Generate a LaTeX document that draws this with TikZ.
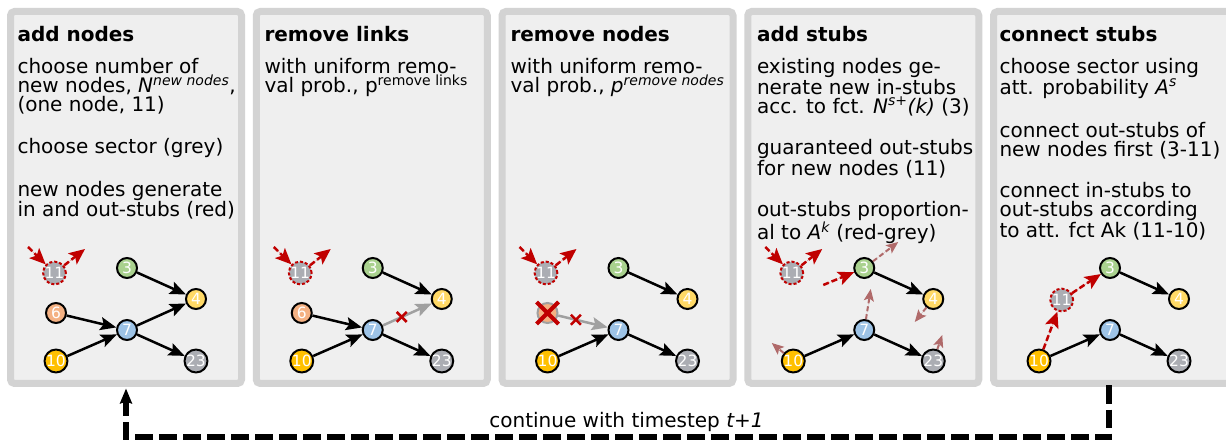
\documentclass[tikz,border=0pt]{standalone}
\usepackage{fontspec}
\setmainfont{DejaVu Sans}
\usetikzlibrary{arrows.meta,calc}
\definecolor{panelborder}{HTML}{D3D3D3}
\definecolor{panelfill}{HTML}{EFEFEF}
\definecolor{stubred}{HTML}{C00000}
\definecolor{mutedred}{HTML}{B06A6A}
\definecolor{edgegrey}{HTML}{A0A0A0}
\definecolor{cgreen}{HTML}{A9D18E}
\definecolor{cyellow}{HTML}{FFD966}
\definecolor{corange}{HTML}{F4B183}
\definecolor{cblue}{HTML}{9DC3E6}
\definecolor{cgold}{HTML}{FFC000}
\definecolor{cgrey}{HTML}{ABADB3}
\newcommand{\bodyfont}{\fontsize{20}{18.8}\selectfont}
\newcommand{\paraskip}{\vskip 22.7pt}
\newcommand{\textblock}[1]{\vtop{\bodyfont\baselineskip=18.8pt #1}}
\tikzset{
  panel/.style={draw=panelborder, fill=panelfill, line width=7pt, rounded corners=4pt,
    minimum width=231pt, minimum height=372pt, inner sep=0pt, outer sep=0pt, anchor=north west},
  titletxt/.style={anchor=base west, inner sep=0pt, outer sep=0pt, font=\bfseries\fontsize{20}{20}\selectfont},
  bodytxt/.style={anchor=base west, inner sep=0pt, outer sep=0pt},
  gn/.style={circle, draw=black, line width=2pt, minimum size=20pt, inner sep=0pt,
    text=white, font=\fontsize{15.5}{15.5}\selectfont},
  newnode/.style={gn, fill=cgrey, draw=stubred, dash pattern=on 3pt off 2pt},
  edge/.style={line width=2.5pt, -{Stealth[length=16pt,width=13pt,inset=3pt]}},
  greyedge/.style={draw=edgegrey, line width=2.5pt, -{Stealth[length=16pt,width=13pt,inset=3pt]}},
  rstub/.style={draw=stubred, fill=stubred, line width=2.5pt, dash pattern=on 6pt off 3pt,
    -{Stealth[length=16pt,width=14pt,inset=3.5pt]}},
  mstub/.style={draw=mutedred, fill=mutedred, line width=2pt, dash pattern=on 5pt off 3pt,
    -{Stealth[length=12pt,width=10pt,inset=2.5pt]}},
  loopline/.style={line width=5.5pt, dash pattern=on 18pt off 6pt,
    -{Stealth[length=15pt,width=12pt,inset=2pt]}},
  labeltxt/.style={anchor=base, inner sep=0pt, font=\fontsize{20}{20}\selectfont},
  xmark/.pic={\draw[stubred, line width=2.5pt] (-5,-5) -- (5,5) (-5,5) -- (5,-5);},
  bigx/.pic={\draw[stubred, line width=4pt] (-11,-11) -- (11,11) (-11,11) -- (11,-11);}
}
\begin{document}
\begin{tikzpicture}[x=1pt,y=-1pt]
\useasboundingbox (0,0) rectangle (1226,443);
% panels
\node[panel] (p1) at (10.5,11.5) {};
\node[panel] (p2) at (256.25,11.5) {};
\node[panel] (p3) at (502,11.5) {};
\node[panel] (p4) at (747.75,11.5) {};
\node[panel, minimum width=250pt] (p5) at (993.5,11.5) {};
\coordinate (loopstart) at ([xshift=-9.5pt]p5.south);
% titles
\node[titletxt] (h1) at (17.5,41.5) {add nodes};
\node[titletxt] (h2) at (264.5,41.5) {remove links};
\node[titletxt] (h3) at (510.5,41.5) {remove nodes};
\node[titletxt] (h4) at (757,41.5) {add stubs};
\node[titletxt] (h5) at (999.5,41.5) {connect stubs};
% bodies
\node[bodytxt] (t1) at (17.5,74) {\textblock{%
  \hbox{choose number of}
  \hbox{new nodes, \textit{N}\textsuperscript{\itshape new nodes},}
  \hbox{(one node, 11)}
  \paraskip
  \hbox{choose sector (grey)}
  \paraskip
  \hbox{new nodes generate}
  \hbox{in and out-stubs (red)}}};
\node[bodytxt] (t2) at (264.5,74) {\textblock{%
  \hbox{with uniform remo-}
  \hbox{val prob., p\textsuperscript{remove links}}}};
\node[bodytxt] (t3) at (510.5,74) {\textblock{%
  \hbox{with uniform remo-}
  \hbox{val prob., \textit{p}\textsuperscript{\itshape remove nodes}}}};
\node[bodytxt] (t4) at (757,74) {\textblock{%
  \hbox{existing nodes ge-}
  \hbox{nerate new in-stubs}
  \hbox{acc. to fct. \textit{N}\textsuperscript{\itshape s+}\textit{(k)} (3)}
  \paraskip
  \hbox{guaranteed out-stubs}
  \hbox{for new nodes (11)}
  \paraskip
  \hbox{out-stubs proportion-}
  \hbox{al to \textit{A}\textsuperscript{\itshape k} (red-grey)}}};
\node[bodytxt] (t5) at (999.5,74) {\textblock{%
  \hbox{choose sector using}
  \hbox{att. probability \textit{A}\textsuperscript{\itshape s}}
  \paraskip
  \hbox{connect out-stubs of}
  \hbox{new nodes first (3-11)}
  \paraskip
  \hbox{connect in-stubs to}
  \hbox{out-stubs according}
  \hbox{to att. fct Ak (11-10)}}};
% ---------- panel 1 graph
\node[newnode] (a11) at (54.5,273) {11};
\node[gn, fill=cgreen] (a3) at (127,268) {3};
\node[gn, fill=cyellow] (a4) at (196,299) {4};
\node[gn, fill=corange] (a6) at (56,313) {6};
\node[gn, fill=cblue] (a7) at (127,330) {7};
\node[gn, fill=cgold] (a10) at (56,361) {10};
\node[gn, fill=cgrey] (a23) at (196,361) {23};
\coordinate (a11in) at (28,247);
\coordinate (a11out) at (85,249);
\draw[edge] (a3) -- (a4);
\draw[edge] (a6) -- (a7);
\draw[edge] (a10) -- (a7);
\draw[edge] (a7) -- (a4);
\draw[edge] (a7) -- (a23);
\draw[rstub] (a11in) -- (a11);
\draw[rstub] (a11) -- (a11out);
% ---------- panel 2 graph
\begin{scope}[xshift=245.75pt]
\node[newnode] (b11) at (54.5,273) {11};
\node[gn, fill=cgreen] (b3) at (127,268) {3};
\node[gn, fill=cyellow] (b4) at (196,299) {4};
\node[gn, fill=corange] (b6) at (56,313) {6};
\node[gn, fill=cblue] (b7) at (127,330) {7};
\node[gn, fill=cgold] (b10) at (56,361) {10};
\node[gn, fill=cgrey] (b23) at (196,361) {23};
\coordinate (b11in) at (28,247);
\coordinate (b11out) at (85,249);
\draw[edge] (b3) -- (b4);
\draw[edge] (b6) -- (b7);
\draw[edge] (b10) -- (b7);
\draw[greyedge] (b7) -- (b4);
\draw[edge] (b7) -- (b23);
\draw[rstub] (b11in) -- (b11);
\draw[rstub] (b11) -- (b11out);
\pic at ($(b7)!0.42!(b4)$) {xmark};
\end{scope}
% ---------- panel 3 graph
\begin{scope}[xshift=491.5pt]
\node[newnode] (c11) at (54.5,273) {11};
\node[gn, fill=cgreen] (c3) at (127,268) {3};
\node[gn, fill=cyellow] (c4) at (196,299) {4};
\node[gn, fill=corange, draw=edgegrey] (c6) at (56,313) {};
\node[gn, fill=cblue] (c7) at (127,330) {7};
\node[gn, fill=cgold] (c10) at (56,361) {10};
\node[gn, fill=cgrey] (c23) at (196,361) {23};
\coordinate (c11in) at (28,247);
\coordinate (c11out) at (85,249);
\draw[edge] (c3) -- (c4);
\draw[greyedge] (c6) -- (c7);
\draw[edge] (c10) -- (c7);
\draw[edge] (c7) -- (c23);
\draw[rstub] (c11in) -- (c11);
\draw[rstub] (c11) -- (c11out);
\pic at ($(c6)!0.4!(c7)$) {xmark};
\pic at (c6) {bigx};
\end{scope}
% ---------- panel 4 graph
\begin{scope}[xshift=737.25pt]
\node[newnode] (d11) at (54.5,273) {11};
\node[gn, fill=cgreen] (d3) at (127,268) {3};
\node[gn, fill=cyellow] (d4) at (196,299) {4};
\node[gn, fill=cblue] (d7) at (127,330) {7};
\node[gn, fill=cgold] (d10) at (56,361) {10};
\node[gn, fill=cgrey] (d23) at (196,361) {23};
\coordinate (d11in) at (28,247);
\coordinate (d11out) at (85,249);
\coordinate (d3in) at (86,285);
\coordinate (d3out) at (161,242);
\coordinate (d7out) at (133.5,289);
\coordinate (d4out) at (177.5,322);
\coordinate (d10out) at (34.5,343);
\coordinate (d23out) at (205,335);
\draw[edge] (d3) -- (d4);
\draw[edge] (d10) -- (d7);
\draw[edge] (d7) -- (d23);
\draw[rstub] (d11in) -- (d11);
\draw[rstub] (d11) -- (d11out);
\draw[rstub] (d3in) -- (d3);
\draw[mstub] (d3) -- (d3out);
\draw[mstub] (d7) -- (d7out);
\draw[mstub] (d4) -- (d4out);
\draw[mstub] (d10) -- (d10out);
\draw[mstub] (d23) -- (d23out);
\end{scope}
% ---------- panel 5 graph
\begin{scope}[xshift=983pt]
\node[newnode] (e11) at (78.7,300) {11};
\node[gn, fill=cgreen] (e3) at (127,268) {3};
\node[gn, fill=cyellow] (e4) at (196,299) {4};
\node[gn, fill=cblue] (e7) at (127,330) {7};
\node[gn, fill=cgold] (e10) at (56,361) {10};
\node[gn, fill=cgrey] (e23) at (196,361) {23};
\draw[edge] (e3) -- (e4);
\draw[edge] (e10) -- (e7);
\draw[edge] (e7) -- (e23);
\draw[rstub] (e10) -- (e11);
\draw[rstub] (e11) -- (e3);
\end{scope}
% ---------- loop back
\draw[loopline, shorten <=2pt, shorten >=5pt] (loopstart) -- ++(0,53.5) -| (p1.south);
\node[labeltxt] (lbl) at (626.5,427) {continue with timestep \textit{t+1}};
\end{tikzpicture}
\end{document}
